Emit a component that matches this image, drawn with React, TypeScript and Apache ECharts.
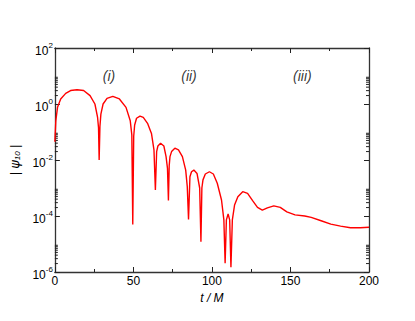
import React, { useEffect, useRef } from "react";
import * as echarts from "echarts";

// time t/M and log10|psi_10|
const tValues = [
  0, 0.6, 1.7, 3.7, 6.9, 10, 14.1, 18.3, 22.4, 25.5, 27.2, 27.8, 28.2, 28.7, 29.3, 30.7, 33.2, 36.9,
  41.1, 45.3, 48.0, 49.0, 49.6, 50.2, 50.8, 52.0, 54.2, 56.3, 59.0, 61.5, 63.1, 64.0, 64.8,
  65.6, 67.3, 69.4, 70.8, 71.7, 72.3, 72.8, 73.3, 74.3, 76.4, 78.7, 81.2, 83.3, 84.3, 85.1, 86.0,
  87.0, 88.5, 90.5, 92.2, 93.0, 93.6, 94.3, 95.8, 98.4, 100.9, 103.4, 106.1, 107.6, 108.4, 109.2,
  110.3, 111.3, 112.1, 113.0, 114.4, 116.5, 119.6, 122.7, 125.9, 129.0, 132.1, 135.3, 139.4,
  143.5, 147.7, 152.9, 159.1, 163.2, 169.5, 175.7, 181.9, 188.2, 194.4, 200,
];
const logPsi = [
  -1.35, -0.6, -0.12, 0.18, 0.38, 0.48, 0.51, 0.48, 0.3, 0.0, -0.48, -0.85, -2.0, -0.8, -0.36, 0.0, 0.2, 0.27,
  0.18, -0.12, -0.6, -1.1, -4.3, -1.15, -0.75, -0.51, -0.43, -0.48, -0.69, -1.05, -1.64, -3.07, -1.7,
  -1.5, -1.4, -1.5, -1.88, -2.3, -3.45, -2.2, -1.88, -1.7, -1.58, -1.64, -1.88, -2.36, -2.95, -4.12, -2.6,
  -2.42, -2.36, -2.48, -3.0, -4.92, -3.0, -2.71, -2.5, -2.42, -2.5, -2.83, -3.43, -4.14, -5.69, -4.14,
  -3.93, -4.14, -5.83, -4.14, -3.61, -3.31, -3.13, -3.19, -3.45, -3.69, -3.79, -3.71, -3.64,
  -3.69, -3.85, -3.96, -4.0, -4.05, -4.17, -4.29, -4.36, -4.42, -4.42, -4.4,
];

const xTicks = [0, 50, 100, 150, 200];
const yTickExponents = [-6, -4, -2, 0, 2];
const minorDecades = [0, -2, -4, -6];
const minorMultipliers = [2, 3, 4, 5, 6, 7, 8, 9];

const regionLabels = ["(i)", "(ii)", "(iii)"];
const regionX = [34.5, 85.4, 157.6];
const regionY = [1.0, 1.0, 1.0];

const FONT = "Liberation Sans, Arial, Helvetica, sans-serif";
const AXIS_COLOR = "#333";

export default function App() {
  const ref = useRef<HTMLDivElement>(null);
  useEffect(() => {
    if (!ref.current) return;
    const chart = echarts.init(ref.current, null, { renderer: "svg" });
    const minorVals: number[][] = [];
    minorDecades.forEach((n) =>
      minorMultipliers.forEach((k) => minorVals.push([0, n + Math.log10(k)]))
    );
    const xMin = xTicks[0];
    const xMax = xTicks[xTicks.length - 1];
    const yMin = yTickExponents[0];
    const yMax = yTickExponents[yTickExponents.length - 1];
    const tickStyle = { color: "#222", width: 1 };
    chart.setOption({
      animation: false,
      backgroundColor: "#fff",
      textStyle: { fontFamily: FONT },
      grid: { left: 48, right: 46, top: 48, bottom: 49 },
      xAxis: [
        {
          type: "value",
          min: xMin,
          max: xMax,
          interval: 50,
          name: "t / M",
          nameLocation: "middle",
          nameGap: 17,
          nameTextStyle: { fontStyle: "italic", fontSize: 12, color: "#000", fontFamily: FONT },
          axisLine: { onZero: false, lineStyle: { color: AXIS_COLOR, width: 1.3 } },
          axisTick: { inside: true, length: 5, lineStyle: tickStyle },
          minorTick: { show: true, splitNumber: 2, length: 3, lineStyle: tickStyle },
          axisLabel: { fontSize: 12, color: "#000", margin: 3, fontFamily: FONT },
          splitLine: { show: false },
        },
        {
          type: "value",
          position: "top",
          min: xMin,
          max: xMax,
          interval: 50,
          axisLine: { show: true, onZero: false, lineStyle: { color: AXIS_COLOR, width: 1.3 } },
          axisTick: { inside: true, length: 5, lineStyle: tickStyle },
          minorTick: { show: true, splitNumber: 2, length: 3, lineStyle: tickStyle },
          axisLabel: { show: false },
          splitLine: { show: false },
        },
      ],
      yAxis: [
        {
          type: "value",
          min: yMin,
          max: yMax,
          interval: 2,
          name: "{a|| }{p|ψ}{s|10}{a| |}",
          nameLocation: "middle",
          nameGap: 28,
          nameTextStyle: {
            fontFamily: FONT,
            color: "#000",
            rich: {
              a: { fontSize: 12, fontStyle: "italic", fontFamily: FONT, color: "#000" },
              p: { fontSize: 13, fontStyle: "italic", fontFamily: "DejaVu Sans", color: "#000" },
              s: { fontSize: 8, fontStyle: "italic", fontFamily: FONT, color: "#000", padding: [6, 0, 0, 0] },
            },
          },
          axisLine: { onZero: false, lineStyle: { color: AXIS_COLOR, width: 1.3 } },
          axisTick: { inside: true, length: 5, lineStyle: tickStyle },
          axisLabel: {
            margin: 2,
            formatter: (v: number) => `{b|10}{s|${v}}`,
            rich: {
              b: { fontSize: 12, color: "#000", fontFamily: FONT, padding: [6, 0, 0, 0] },
              s: { fontSize: 8, color: "#000", fontFamily: FONT, padding: [0, 0, 6, 0] },
            },
          },
          splitLine: { show: false },
        },
        {
          type: "value",
          position: "right",
          min: yMin,
          max: yMax,
          interval: 2,
          axisLine: { show: true, onZero: false, lineStyle: { color: AXIS_COLOR, width: 1.3 } },
          axisTick: { inside: true, length: 5, lineStyle: tickStyle },
          axisLabel: { show: false },
          splitLine: { show: false },
        },
      ],
      series: [
        {
          type: "line",
          data: tValues.map((t, i) => [t, logPsi[i]]),
          showSymbol: false,
          symbol: "none",
          lineStyle: { color: "#ff0000", width: 1.4 },
          smooth: false,
          clip: true,
        },
        {
          type: "custom",
          data: minorVals,
          renderItem: (params: any, api: any) => {
            const v = api.value(1);
            const pl = api.coord([xMin, v]);
            const pr = api.coord([xMax, v]);
            const st = { stroke: "#222", lineWidth: 1 };
            return {
              type: "group",
              children: [
                { type: "line", shape: { x1: pl[0], y1: pl[1], x2: pl[0] + 3, y2: pl[1] }, style: st },
                { type: "line", shape: { x1: pr[0] - 3, y1: pr[1], x2: pr[0], y2: pr[1] }, style: st },
              ],
            };
          },
          silent: true,
        },
        {
          type: "scatter",
          symbolSize: 0,
          data: regionLabels.map((l, i) => ({ value: [regionX[i], regionY[i]], name: l })),
          label: {
            show: true,
            position: [0, 0],
            align: "center",
            verticalAlign: "middle",
            formatter: (p: any) => p.name,
            fontStyle: "italic",
            fontSize: 14,
            color: "#000",
            fontFamily: FONT,
          },
          silent: true,
        },
      ],
    });
    return () => chart.dispose();
  }, []);
  return (
    <div
      ref={ref}
      style={{ position: "absolute", left: 0, top: 0, width: 415, height: 321 }}
    />
  );
}
